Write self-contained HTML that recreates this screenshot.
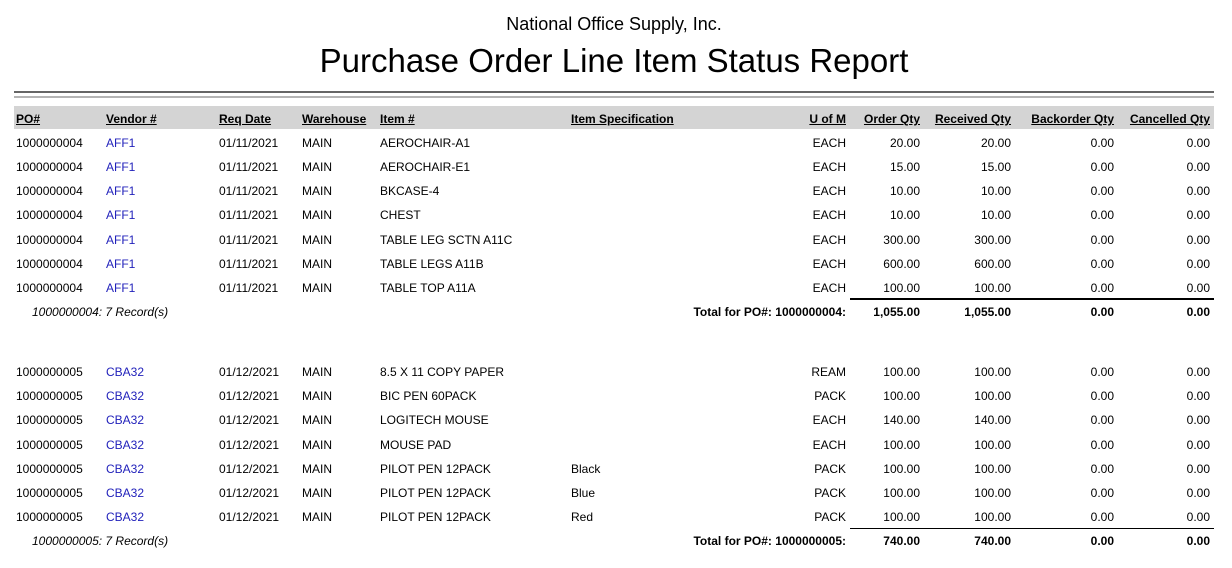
<!DOCTYPE html>
<html><head><meta charset="utf-8"><style>
body{margin:0;width:1232px;height:568px;background:#fff;position:relative;overflow:hidden;font-family:"Liberation Sans",sans-serif;font-size:12px;color:#000}
div{position:absolute;white-space:nowrap}
.t{line-height:14px;margin-top:1px}
.r{text-align:right}
.v{color:#2222bb}
.h{font-weight:bold;text-decoration:underline}
.b{font-weight:bold}
.i{font-style:italic}
</style></head><body>
<div style="left:0;width:1228px;top:14px;text-align:center;font-size:18px">National Office Supply, Inc.</div>
<div style="left:0;width:1228px;top:42px;text-align:center;font-size:33px">Purchase Order Line Item Status Report</div>
<div style="left:14px;top:91px;width:1200px;height:2px;background:#666"></div>
<div style="left:14px;top:96px;width:1200px;height:2px;background:#b4b4b4"></div>
<div style="left:14px;top:106px;width:1200px;height:23px;background:#d4d4d4"></div>
<div class="t h" style="left:16px;top:111px">PO#</div>
<div class="t h" style="left:106px;top:111px">Vendor #</div>
<div class="t h" style="left:219px;top:111px">Req Date</div>
<div class="t h" style="left:302px;top:111px">Warehouse</div>
<div class="t h" style="left:380px;top:111px">Item #</div>
<div class="t h" style="left:571px;top:111px">Item Specification</div>
<div class="t h r" style="right:386px;top:111px">U of M</div>
<div class="t h r" style="right:312px;top:111px">Order Qty</div>
<div class="t h r" style="right:221px;top:111px">Received Qty</div>
<div class="t h r" style="right:118px;top:111px">Backorder Qty</div>
<div class="t h r" style="right:22px;top:111px">Cancelled Qty</div>

<div style="left:850px;top:298px;width:364px;height:2px;background:#000"></div>
<div style="left:850px;top:528px;width:364px;height:1px;background:#000"></div>

<!-- group 1 -->
<div class="t" style="left:16px;top:135px">1000000004</div><div class="t v" style="left:106px;top:135px">AFF1</div><div class="t" style="left:219px;top:135px">01/11/2021</div><div class="t" style="left:302px;top:135px">MAIN</div><div class="t" style="left:380px;top:135px">AEROCHAIR-A1</div><div class="t r" style="right:386px;top:135px">EACH</div><div class="t r" style="right:312px;top:135px">20.00</div><div class="t r" style="right:221px;top:135px">20.00</div><div class="t r" style="right:118px;top:135px">0.00</div><div class="t r" style="right:22px;top:135px">0.00</div>
<div class="t" style="left:16px;top:159px">1000000004</div><div class="t v" style="left:106px;top:159px">AFF1</div><div class="t" style="left:219px;top:159px">01/11/2021</div><div class="t" style="left:302px;top:159px">MAIN</div><div class="t" style="left:380px;top:159px">AEROCHAIR-E1</div><div class="t r" style="right:386px;top:159px">EACH</div><div class="t r" style="right:312px;top:159px">15.00</div><div class="t r" style="right:221px;top:159px">15.00</div><div class="t r" style="right:118px;top:159px">0.00</div><div class="t r" style="right:22px;top:159px">0.00</div>
<div class="t" style="left:16px;top:183px">1000000004</div><div class="t v" style="left:106px;top:183px">AFF1</div><div class="t" style="left:219px;top:183px">01/11/2021</div><div class="t" style="left:302px;top:183px">MAIN</div><div class="t" style="left:380px;top:183px">BKCASE-4</div><div class="t r" style="right:386px;top:183px">EACH</div><div class="t r" style="right:312px;top:183px">10.00</div><div class="t r" style="right:221px;top:183px">10.00</div><div class="t r" style="right:118px;top:183px">0.00</div><div class="t r" style="right:22px;top:183px">0.00</div>
<div class="t" style="left:16px;top:207px">1000000004</div><div class="t v" style="left:106px;top:207px">AFF1</div><div class="t" style="left:219px;top:207px">01/11/2021</div><div class="t" style="left:302px;top:207px">MAIN</div><div class="t" style="left:380px;top:207px">CHEST</div><div class="t r" style="right:386px;top:207px">EACH</div><div class="t r" style="right:312px;top:207px">10.00</div><div class="t r" style="right:221px;top:207px">10.00</div><div class="t r" style="right:118px;top:207px">0.00</div><div class="t r" style="right:22px;top:207px">0.00</div>
<div class="t" style="left:16px;top:232px">1000000004</div><div class="t v" style="left:106px;top:232px">AFF1</div><div class="t" style="left:219px;top:232px">01/11/2021</div><div class="t" style="left:302px;top:232px">MAIN</div><div class="t" style="left:380px;top:232px">TABLE LEG SCTN A11C</div><div class="t r" style="right:386px;top:232px">EACH</div><div class="t r" style="right:312px;top:232px">300.00</div><div class="t r" style="right:221px;top:232px">300.00</div><div class="t r" style="right:118px;top:232px">0.00</div><div class="t r" style="right:22px;top:232px">0.00</div>
<div class="t" style="left:16px;top:256px">1000000004</div><div class="t v" style="left:106px;top:256px">AFF1</div><div class="t" style="left:219px;top:256px">01/11/2021</div><div class="t" style="left:302px;top:256px">MAIN</div><div class="t" style="left:380px;top:256px">TABLE LEGS A11B</div><div class="t r" style="right:386px;top:256px">EACH</div><div class="t r" style="right:312px;top:256px">600.00</div><div class="t r" style="right:221px;top:256px">600.00</div><div class="t r" style="right:118px;top:256px">0.00</div><div class="t r" style="right:22px;top:256px">0.00</div>
<div class="t" style="left:16px;top:280px">1000000004</div><div class="t v" style="left:106px;top:280px">AFF1</div><div class="t" style="left:219px;top:280px">01/11/2021</div><div class="t" style="left:302px;top:280px">MAIN</div><div class="t" style="left:380px;top:280px">TABLE TOP A11A</div><div class="t r" style="right:386px;top:280px">EACH</div><div class="t r" style="right:312px;top:280px">100.00</div><div class="t r" style="right:221px;top:280px">100.00</div><div class="t r" style="right:118px;top:280px">0.00</div><div class="t r" style="right:22px;top:280px">0.00</div>
<div class="t i" style="left:32px;top:304px">1000000004: 7 Record(s)</div>
<div class="t b r" style="right:386px;top:304px">Total for PO#: 1000000004:</div><div class="t b r" style="right:312px;top:304px">1,055.00</div><div class="t b r" style="right:221px;top:304px">1,055.00</div><div class="t b r" style="right:118px;top:304px">0.00</div><div class="t b r" style="right:22px;top:304px">0.00</div>

<!-- group 2 -->
<div class="t" style="left:16px;top:364px">1000000005</div><div class="t v" style="left:106px;top:364px">CBA32</div><div class="t" style="left:219px;top:364px">01/12/2021</div><div class="t" style="left:302px;top:364px">MAIN</div><div class="t" style="left:380px;top:364px">8.5 X 11 COPY PAPER</div><div class="t r" style="right:386px;top:364px">REAM</div><div class="t r" style="right:312px;top:364px">100.00</div><div class="t r" style="right:221px;top:364px">100.00</div><div class="t r" style="right:118px;top:364px">0.00</div><div class="t r" style="right:22px;top:364px">0.00</div>
<div class="t" style="left:16px;top:388px">1000000005</div><div class="t v" style="left:106px;top:388px">CBA32</div><div class="t" style="left:219px;top:388px">01/12/2021</div><div class="t" style="left:302px;top:388px">MAIN</div><div class="t" style="left:380px;top:388px">BIC PEN 60PACK</div><div class="t r" style="right:386px;top:388px">PACK</div><div class="t r" style="right:312px;top:388px">100.00</div><div class="t r" style="right:221px;top:388px">100.00</div><div class="t r" style="right:118px;top:388px">0.00</div><div class="t r" style="right:22px;top:388px">0.00</div>
<div class="t" style="left:16px;top:412px">1000000005</div><div class="t v" style="left:106px;top:412px">CBA32</div><div class="t" style="left:219px;top:412px">01/12/2021</div><div class="t" style="left:302px;top:412px">MAIN</div><div class="t" style="left:380px;top:412px">LOGITECH MOUSE</div><div class="t r" style="right:386px;top:412px">EACH</div><div class="t r" style="right:312px;top:412px">140.00</div><div class="t r" style="right:221px;top:412px">140.00</div><div class="t r" style="right:118px;top:412px">0.00</div><div class="t r" style="right:22px;top:412px">0.00</div>
<div class="t" style="left:16px;top:437px">1000000005</div><div class="t v" style="left:106px;top:437px">CBA32</div><div class="t" style="left:219px;top:437px">01/12/2021</div><div class="t" style="left:302px;top:437px">MAIN</div><div class="t" style="left:380px;top:437px">MOUSE PAD</div><div class="t r" style="right:386px;top:437px">EACH</div><div class="t r" style="right:312px;top:437px">100.00</div><div class="t r" style="right:221px;top:437px">100.00</div><div class="t r" style="right:118px;top:437px">0.00</div><div class="t r" style="right:22px;top:437px">0.00</div>
<div class="t" style="left:16px;top:461px">1000000005</div><div class="t v" style="left:106px;top:461px">CBA32</div><div class="t" style="left:219px;top:461px">01/12/2021</div><div class="t" style="left:302px;top:461px">MAIN</div><div class="t" style="left:380px;top:461px">PILOT PEN 12PACK</div><div class="t" style="left:571px;top:461px">Black</div><div class="t r" style="right:386px;top:461px">PACK</div><div class="t r" style="right:312px;top:461px">100.00</div><div class="t r" style="right:221px;top:461px">100.00</div><div class="t r" style="right:118px;top:461px">0.00</div><div class="t r" style="right:22px;top:461px">0.00</div>
<div class="t" style="left:16px;top:485px">1000000005</div><div class="t v" style="left:106px;top:485px">CBA32</div><div class="t" style="left:219px;top:485px">01/12/2021</div><div class="t" style="left:302px;top:485px">MAIN</div><div class="t" style="left:380px;top:485px">PILOT PEN 12PACK</div><div class="t" style="left:571px;top:485px">Blue</div><div class="t r" style="right:386px;top:485px">PACK</div><div class="t r" style="right:312px;top:485px">100.00</div><div class="t r" style="right:221px;top:485px">100.00</div><div class="t r" style="right:118px;top:485px">0.00</div><div class="t r" style="right:22px;top:485px">0.00</div>
<div class="t" style="left:16px;top:509px">1000000005</div><div class="t v" style="left:106px;top:509px">CBA32</div><div class="t" style="left:219px;top:509px">01/12/2021</div><div class="t" style="left:302px;top:509px">MAIN</div><div class="t" style="left:380px;top:509px">PILOT PEN 12PACK</div><div class="t" style="left:571px;top:509px">Red</div><div class="t r" style="right:386px;top:509px">PACK</div><div class="t r" style="right:312px;top:509px">100.00</div><div class="t r" style="right:221px;top:509px">100.00</div><div class="t r" style="right:118px;top:509px">0.00</div><div class="t r" style="right:22px;top:509px">0.00</div>
<div class="t i" style="left:32px;top:533px">1000000005: 7 Record(s)</div>
<div class="t b r" style="right:386px;top:533px">Total for PO#: 1000000005:</div><div class="t b r" style="right:312px;top:533px">740.00</div><div class="t b r" style="right:221px;top:533px">740.00</div><div class="t b r" style="right:118px;top:533px">0.00</div><div class="t b r" style="right:22px;top:533px">0.00</div>
</body></html>
